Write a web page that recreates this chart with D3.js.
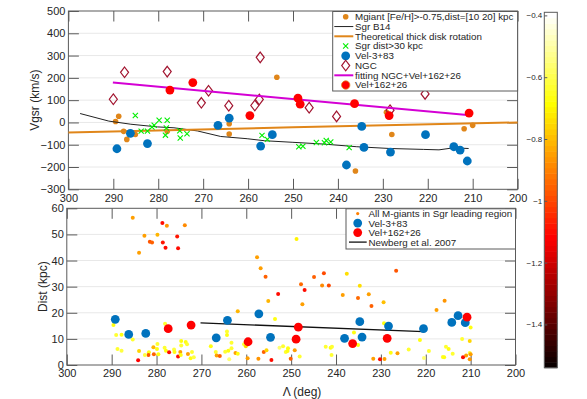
<!DOCTYPE html>
<html>
<head>
<meta charset="utf-8">
<script src="https://d3js.org/d3.v7.min.js"></script>
<style>
  body { margin: 0; background: #fff; }
  svg { font-family: "Liberation Sans", Arial, Helvetica, sans-serif; }
  .tick text { fill: #262626; }
</style>
</head>
<body>
<div id="chart"></div>
<script>
// ---------- DATA ----------

// top panel: Mgiant [Fe/H]>-0.75, dist=[10 20] kpc
const mgLam = [289.5, 288.8, 287.7, 287.0, 285.1, 278.0, 264.2, 264.2, 253.6, 229.2, 228.0, 236.1, 211.9, 210.0]
const mgVel = [4, 28, -40, -76, -54, -40, -6, -52, 203, 46, -54, -218, -28, -13]

// Sgr B14 model track
const b14Lam = [297.4, 291.0, 286.1, 280.2, 276.5, 271.3, 266.1, 260.2, 256.4, 250.2, 243.2, 235.8, 228.4, 221.0, 217.5, 214.3, 210.9]
const b14Vel = [40, 6, -8, -20, -24, -38, -63, -73, -82, -89, -97, -109, -117, -121, -123, -114, -117]

// theoretical thick disk rotation
const diskLam = [300, 250, 200]
const diskVel = [-45, -22, 0]

// Sgr dist > 30 kpc
const farLam = [285.1, 283.8, 282.4, 281.4, 280.9, 279.8, 278.0, 278.4, 278.2, 275.2, 275.1, 273.6, 256.9, 255.7, 248.7, 247.8, 244.8, 243.0, 242.6, 241.6, 237.5]
const farVel = [31, -39, -39, -21, -13, 10, 10, -57, -25, -37, -70, -51, -58, -76, -109, -107, -90, -91, -81, -88, -113]

// Vel-3+83 group
const blueLam = [289.2, 286.2, 282.4, 266.7, 264.2, 257.2, 254.6, 238.1, 234.7, 234.2, 228.3, 220.5, 214.2, 212.8, 211.2]
const blueVel = [-118, -49, -95, -13, 19, -106, -55, -191, -18, -112, -133, -55, -109, -124, -173]
const blueDist = [17.5, 11.7, 12.1, 10.4, 17.1, 19.6, 10.6, 10.2, 16.6, 10.7, 14.9, 13.9, 16.3, 18.9, 16.2]

// NGC
const ngcLam = [290.0, 287.5, 278.0, 268.8, 270.4, 264.3, 258.5, 257.5, 257.3, 246.4, 240.3, 228.4, 220.6]
const ngcVel = [104, 225, 228, 142, 88, 75, 76, 103, 292, 66, 27, 55, 128]

// fitting NGC+Vel+162+26
const fitLam = [290.1, 210.6]
const fitVel = [179, 32]

// Vel+162+26 group
const redLam = [277.4, 272.3, 259.6, 248.9, 248.4, 236.3, 228.6, 210.8]
const redVel = [145, 179, 31, 109, 82, 84, 31, 42]
const redDist = [13.9, 15.3, 8.9, 9.9, 14.5, 8.2, 10.2, 18.3]

// Newberg et al. 2007
const nbLam = [270.2, 220.5]
const nbDist = [16.1, 12.8]

// bottom panel: all M-giants in Sgr leading region [Lambda, dist, Fe/H]
const allLam = [285.3, 278.7, 277.7, 273.7, 282.7, 279.8, 275.4, 281.5, 281.0, 278.6, 278.0, 275.2, 283.9,
  289.6, 289.0, 287.8, 285.3, 288.7, 287.8, 283.9, 284.1, 278.1, 279.8, 279.9, 280.7, 281.7, 280.6, 281.8, 282.6,
  279.6, 278.2, 277.9, 277.2, 276.1, 276.0, 274.7, 274.5, 274.5, 273.5, 273.2, 275.2, 274.6, 273.0, 272.1, 272.4,
  271.7, 267.9, 266.8, 266.6,
  248.8, 257.6, 256.8, 255.7, 244.9, 242.7, 237.6, 247.8, 247.0, 243.1, 241.6, 252.9, 255.1, 247.5, 261.9, 238.5,
  235.1, 234.7, 232.7, 253.6, 236.0,
  264.3, 264.3, 263.3, 265.9, 264.7, 264.0, 263.3, 263.8, 262.4, 261.9, 260.5, 260.1, 259.7, 257.3, 256.1, 255.5,
  254.4, 252.6, 251.8, 250.7, 251.2, 250.8, 249.2, 250.1, 248.1, 242.3, 241.2, 240.9, 241.0, 235.1,
  226.6, 232.1, 229.4, 215.8, 217.6, 229.3, 221.3, 210.0, 211.9, 210.2, 215.5, 214.9, 214.0, 210.2, 210.0, 211.0,
  211.7, 210.2, 231.7, 230.2, 229.2, 227.8, 226.3, 223.8, 219.3, 220.4, 216.2, 215.9]
const allDist = [56.4, 54.4, 53.3, 53.5, 49.5, 49.9, 49.2, 47.2, 46.9, 46.9, 44.9, 44.7, 43.0,
  15.3, 11.5, 11.6, 9.8, 6.1, 5.5, 5.4, 1.8, 15.8, 8.0, 6.1, 6.8, 4.9, 4.1, 3.8, 3.8,
  4.1, 6.6, 5.5, 4.9, 5.9, 5.0, 5.0, 9.2, 7.5, 8.8, 7.9, 3.3, 3.8, 4.2, 5.0, 2.6,
  3.0, 7.2, 5.0, 3.6,
  48.2, 41.3, 37.0, 33.8, 33.7, 35.1, 34.9, 30.9, 28.7, 30.4, 30.4, 27.2, 24.5, 23.3, 20.6, 26.8,
  25.7, 30.3, 27.1, 17.6, 12.4,
  12.8, 11.5, 8.5, 3.4, 5.1, 5.5, 6.4, 2.2, 4.6, 4.3, 7.9, 7.2, 2.6, 2.4, 5.0, 5.6,
  1.9, 6.6, 7.2, 6.4, 5.0, 5.4, 5.6, 2.4, 3.3, 7.0, 6.6, 7.0, 3.8, 7.7,
  36.1, 22.6, 24.0, 24.6, 21.1, 16.0, 9.6, 14.4, 10.0, 9.2, 7.0, 6.1, 4.3, 4.6, 4.1, 3.6,
  3.0, 2.2, 2.4, 2.2, 2.3, 4.7, 4.5, 5.9, 5.4, 2.7, 3.1, 3.0]
const allFeh = [-0.84, -1.10, -0.86, -0.88, -0.84, -0.82, -1.08, -0.98, -0.96, -1.08, -1.10, -1.10, -0.84,
  -0.66, -0.64, -0.66, -0.64, -0.64, -0.62, -0.76, -1.12, -0.64, -0.64, -0.66, -0.82, -0.66, -0.96, -0.98, -0.62,
  -0.66, -0.64, -0.66, -1.10, -0.62, -0.66, -0.84, -0.66, -0.64, -0.66, -0.64, -1.10, -0.66, -0.84, -0.64, -0.66,
  -0.62, -0.66, -0.64, -0.84,
  -0.70, -0.84, -0.84, -0.96, -0.96, -1.00, -0.74, -0.94, -1.10, -0.88, -1.00, -1.10, -0.82, -0.84, -0.82, -0.84,
  -0.94, -0.74, -0.84, -0.66, -0.66,
  -0.64, -0.66, -0.64, -0.96, -0.64, -0.66, -0.64, -0.56, -0.84, -0.66, -0.64, -0.76, -0.84, -0.86, -0.96, -0.76,
  -1.10, -0.56, -0.64, -0.66, -0.64, -0.66, -0.84, -0.96, -0.64, -0.64, -0.66, -0.64, -0.64, -0.66,
  -0.98, -0.96, -0.80, -0.86, -0.84, -0.66, -0.66, -0.66, -0.64, -0.76, -0.64, -0.66, -0.64, -0.64, -0.84, -0.84,
  -1.10, -0.86, -0.84, -1.10, -0.84, -0.66, -0.84, -0.64, -0.64, -0.56, -0.64, -0.66]

// axis ticks
const lamTicks = [300, 290, 280, 270, 260, 250, 240, 230, 220, 210, 200]
const velTicks = [-300, -200, -100, 0, 100, 200, 300, 400, 500]
const distTicks = [0, 10, 20, 30, 40, 50, 60]
const cbTicks = [-1.4, -1.2, -1, -0.8, -0.6, -0.4]
const cbRange = [-1.54, -0.39]

const colBlue = '#0072bd', colRed = '#ff0000', colOrange = '#e0861a'
const colGreen = '#00ee00', colNgc = '#a2142f', colMag = '#d400d4'
const axisCol = '#5a5a5a', gridCol = '#e8e8e8', textCol = '#262626'

// ---------- SETUP ----------
const width = 587, height = 399

const svg = d3.select('#chart').append('svg')
  .attr('width', width)
  .attr('height', height)

// matlab "hot" colormap, 64 steps
const nCol = 64
const hotMap = d3.range(nCol).map(i => {
  let m = Math.floor(3 / 8 * nCol)
  let r = Math.min(1, (i + 1) / m)
  let g = Math.min(1, Math.max(0, (i + 1 - m) / m))
  let b = Math.max(0, (i + 1 - 2 * m) / (nCol - 2 * m))
  return d3.rgb(r * 255, g * 255, b * 255).formatHex()
})
const colorOf = d3.scaleQuantize().domain(cbRange).range(hotMap)

const xTop = d3.scaleLinear().domain([300, 200]).range([68.4, 517.6])
const yTop = d3.scaleLinear().domain([-300, 500]).range([189.3, 11])
const xBot = d3.scaleLinear().domain([300, 200]).range([66.8, 515.5])
const yBot = d3.scaleLinear().domain([0, 60]).range([365, 208.3])

function frame(g, x, y, xt, yt) {
  let [x0, x1] = x.range(), [y0, y1] = y.range()
  // grid
  g.append('g').selectAll('line')
    .data(yt.slice(1, -1))
    .enter().append('line')
    .attr('x1', x0).attr('x2', x1)
    .attr('y1', d => y(d)).attr('y2', d => y(d))
    .style('stroke', gridCol)
  let tl = 10.5
  // axes via d3, ticks pointing inward
  let ax = [
    g.append('g').attr('transform', `translate(0,${y0})`)
      .call(d3.axisBottom(x).tickValues(xt).tickSize(-tl).tickPadding(4.5).tickFormat(d3.format('d'))),
    g.append('g').attr('transform', `translate(0,${y1})`)
      .call(d3.axisTop(x).tickValues(xt).tickSize(-tl).tickFormat('')),
    g.append('g').attr('transform', `translate(${x0},0)`)
      .call(d3.axisLeft(y).tickValues(yt).tickSize(-tl).tickPadding(3).tickFormat(d3.format('d'))),
    g.append('g').attr('transform', `translate(${x1},0)`)
      .call(d3.axisRight(y).tickValues(yt).tickSize(-tl).tickFormat(''))
  ]
  ax.forEach(a => {
    a.select('.domain').remove()
    a.selectAll('.tick line').style('stroke', axisCol)
    a.selectAll('.tick text').style('font-size', '11px').style('fill', textCol)
  })
  g.append('rect')
    .attr('x', x0).attr('y', y1)
    .attr('width', x1 - x0).attr('height', y0 - y1)
    .style('fill', 'none').style('stroke', axisCol)
}

function diamond(sel, cx, cy) {
  sel.append('path')
    .attr('d', `M${cx},${cy - 5.3}L${cx + 4},${cy}L${cx},${cy + 5.3}L${cx - 4},${cy}Z`)
    .style('fill', 'none').style('stroke', colNgc).style('stroke-width', 1.2)
}

function cross(sel, cx, cy) {
  sel.append('path')
    .attr('d', `M${cx - 2.6},${cy - 2.6}L${cx + 2.6},${cy + 2.6}M${cx - 2.6},${cy + 2.6}L${cx + 2.6},${cy - 2.6}`)
    .style('stroke', colGreen).style('stroke-width', 1.1)
}

// ---------- TOP PANEL ----------
const topPanel = svg.append('g')
frame(topPanel, xTop, yTop, lamTicks, velTicks)

const lineTop = (lx, ly) => d3.line().x((d, i) => xTop(lx[i])).y((d, i) => yTop(ly[i]))(lx)

topPanel.append('g').selectAll('circle')
  .data(mgLam)
  .enter().append('circle')
  .attr('cx', d => xTop(d))
  .attr('cy', (d, i) => yTop(mgVel[i]))
  .attr('r', 2.8)
  .style('fill', colOrange)

topPanel.append('path').attr('d', lineTop(b14Lam, b14Vel))
  .style('fill', 'none').style('stroke', '#222').style('stroke-width', 1)

topPanel.append('path').attr('d', lineTop(diskLam, diskVel))
  .style('fill', 'none').style('stroke', colOrange).style('stroke-width', 2)

farLam.forEach((l, i) => cross(topPanel, xTop(l), yTop(farVel[i])))

topPanel.append('g').selectAll('circle')
  .data(blueLam)
  .enter().append('circle')
  .attr('cx', d => xTop(d))
  .attr('cy', (d, i) => yTop(blueVel[i]))
  .attr('r', 4.4)
  .style('fill', colBlue)

ngcLam.forEach((l, i) => diamond(topPanel, xTop(l), yTop(ngcVel[i])))

topPanel.append('path').attr('d', lineTop(fitLam, fitVel))
  .style('fill', 'none').style('stroke', colMag).style('stroke-width', 2)

topPanel.append('g').selectAll('circle')
  .data(redLam)
  .enter().append('circle')
  .attr('cx', d => xTop(d))
  .attr('cy', (d, i) => yTop(redVel[i]))
  .attr('r', 4.4)
  .style('fill', colRed)

// top legend
const legTop = topPanel.append('g')
legTop.append('rect')
  .attr('x', 332.7).attr('y', 11.5).attr('width', 184.9).attr('height', 79.5)
  .style('fill', 'white').style('stroke', axisCol)

const topItems = [
  'Mgiant [Fe/H]>-0.75,dist=[10 20] kpc', 'Sgr B14', 'Theoretical thick disk rotation',
  'Sgr dist>30 kpc', 'Vel-3+83', 'NGC', 'fitting NGC+Vel+162+26', 'Vel+162+26'
]
topItems.forEach((t, i) => {
  let yy = 16.8 + i * 9.75
  let mx = 345.7
  if (i == 0) legTop.append('circle').attr('cx', mx).attr('cy', yy).attr('r', 2.8).style('fill', colOrange)
  if (i == 1 || i == 2 || i == 6) {
    legTop.append('line').attr('x1', 334.3).attr('x2', 353.3).attr('y1', yy).attr('y2', yy)
      .style('stroke', i == 1 ? '#222' : i == 2 ? colOrange : colMag)
      .style('stroke-width', i == 1 ? 1 : 2)
  }
  if (i == 3) cross(legTop, mx, yy)
  if (i == 4) legTop.append('circle').attr('cx', mx).attr('cy', yy).attr('r', 4.4).style('fill', colBlue)
  if (i == 5) diamond(legTop, mx, yy)
  if (i == 7) legTop.append('circle').attr('cx', mx).attr('cy', yy).attr('r', 4.2)
    .style('fill', colRed).style('stroke', colOrange).style('stroke-width', 0.8)
  legTop.append('text')
    .attr('x', 355).attr('y', yy).attr('dy', '0.35em')
    .style('font-size', '9.8px').style('fill', textCol)
    .text(t)
})

topPanel.append('text')
  .attr('transform', `translate(35,${(yTop.range()[0] + yTop.range()[1]) / 2}) rotate(-90)`)
  .attr('text-anchor', 'middle').attr('dy', '0.35em')
  .style('font-size', '12px').style('fill', textCol)
  .text('Vgsr (km/s)')

// ---------- BOTTOM PANEL ----------
const botPanel = svg.append('g')
frame(botPanel, xBot, yBot, lamTicks, distTicks)

botPanel.append('g').selectAll('circle')
  .data(allLam)
  .enter().append('circle')
  .attr('cx', d => xBot(d))
  .attr('cy', (d, i) => yBot(allDist[i]))
  .attr('r', 2)
  .style('fill', (d, i) => colorOf(allFeh[i]))

botPanel.append('path')
  .attr('d', d3.line().x((d, i) => xBot(nbLam[i])).y((d, i) => yBot(nbDist[i]))(nbLam))
  .style('fill', 'none').style('stroke', '#111').style('stroke-width', 1.3)

botPanel.append('g').selectAll('circle')
  .data(blueLam)
  .enter().append('circle')
  .attr('cx', d => xBot(d))
  .attr('cy', (d, i) => yBot(blueDist[i]))
  .attr('r', 4.4)
  .style('fill', colBlue)

botPanel.append('g').selectAll('circle')
  .data(redLam)
  .enter().append('circle')
  .attr('cx', d => xBot(d))
  .attr('cy', (d, i) => yBot(redDist[i]))
  .attr('r', 4.4)
  .style('fill', colRed)

// bottom legend
const legBot = botPanel.append('g')
legBot.append('rect')
  .attr('x', 346).attr('y', 208.8).attr('width', 169.5).attr('height', 40.2)
  .style('fill', 'white').style('stroke', axisCol)

const botItems = ['All M-giants in Sgr leading region', 'Vel-3+83', 'Vel+162+26', 'Newberg et al. 2007']
botItems.forEach((t, i) => {
  let yy = 213.6 + i * 9.5
  let mx = 357.7
  if (i == 0) legBot.append('circle').attr('cx', mx).attr('cy', yy).attr('r', 1.6).style('fill', '#ff7f00')
  if (i == 1) legBot.append('circle').attr('cx', mx).attr('cy', yy).attr('r', 4.4).style('fill', colBlue)
  if (i == 2) legBot.append('circle').attr('cx', mx).attr('cy', yy).attr('r', 4.4).style('fill', colRed)
  if (i == 3) legBot.append('line').attr('x1', 349).attr('x2', 366.7).attr('y1', yy).attr('y2', yy)
    .style('stroke', '#111').style('stroke-width', 1.3)
  legBot.append('text')
    .attr('x', 368.5).attr('y', yy).attr('dy', '0.35em')
    .style('font-size', '9.8px').style('fill', textCol)
    .text(t)
})

botPanel.append('text')
  .attr('transform', `translate(43,${(yBot.range()[0] + yBot.range()[1]) / 2}) rotate(-90)`)
  .attr('text-anchor', 'middle').attr('dy', '0.35em')
  .style('font-size', '12px').style('fill', textCol)
  .text('Dist (kpc)')

botPanel.append('text')
  .attr('x', 302).attr('y', 392).attr('dy', '0.35em')
  .attr('text-anchor', 'middle')
  .style('font-size', '12px').style('fill', textCol)
  .text('Λ (deg)')

// ---------- COLORBAR ----------
const cb = svg.append('g')
const cbX = 544.3, cbW = 13
const yCb = d3.scaleLinear().domain(cbRange).range([367.7, 12.3])

cb.selectAll('rect.step')
  .data(hotMap)
  .enter().append('rect')
  .attr('class', 'step')
  .attr('x', cbX)
  .attr('width', cbW)
  .attr('y', (d, i) => yCb(cbRange[0] + (i + 1) * (cbRange[1] - cbRange[0]) / nCol))
  .attr('height', (yCb.range()[0] - yCb.range()[1]) / nCol + 0.5)
  .style('fill', d => d)

cb.append('rect')
  .attr('x', cbX).attr('y', 12.3).attr('width', cbW).attr('height', 355.4)
  .style('fill', 'none').style('stroke', axisCol)

const cbAxis = cb.append('g').attr('transform', `translate(${cbX},0)`)
  .call(d3.axisRight(yCb).tickValues(cbTicks).tickSize(3).tickFormat(d3.format('')))
cbAxis.select('.domain').remove()
cbAxis.selectAll('.tick line').style('stroke', axisCol)
cbAxis.selectAll('.tick text')
  .attr('x', -2).attr('text-anchor', 'end')
  .style('font-size', '8px').style('fill', textCol)
</script>
</body>
</html>
